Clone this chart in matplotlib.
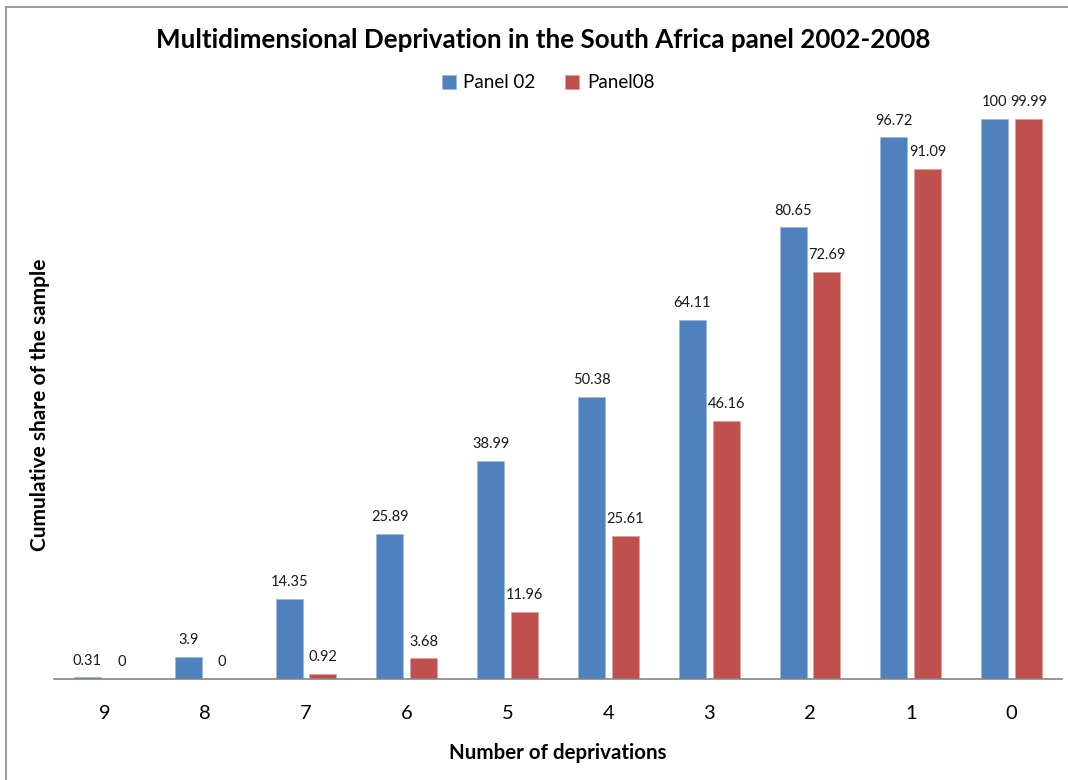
import matplotlib
matplotlib.use("Agg")
import matplotlib.pyplot as plt
import numpy as np
from matplotlib.lines import Line2D

categories = ["9", "8", "7", "6", "5", "4", "3", "2", "1", "0"]
panel02 = [0.31, 3.9, 14.35, 25.89, 38.99, 50.38, 64.11, 80.65, 96.72, 100]
panel08 = [0, 0, 0.92, 3.68, 11.96, 25.61, 46.16, 72.69, 91.09, 99.99]
labels02 = ["0.31", "3.9", "14.35", "25.89", "38.99", "50.38", "64.11", "80.65", "96.72", "100"]
labels08 = ["0", "0", "0.92", "3.68", "11.96", "25.61", "46.16", "72.69", "91.09", "99.99"]

BLUE = "#4F81BD"
RED = "#C0504D"
FONT = ["Lato", "DejaVu Sans"]
plt.rcParams["font.family"] = FONT

W, H = 1068, 780
fig = plt.figure(figsize=(W / 100, H / 100), dpi=100)

# plot area in pixel terms
x0, x1 = 54, 1062
y_base, y_top = 679, 63
ymax = 110
ax = fig.add_axes([x0 / W, (H - y_base) / H, (x1 - x0) / W, (y_base - y_top) / H])

x = np.arange(len(categories))
bw = 0.268
off = 0.168
b1 = ax.bar(x - off, panel02, bw, color=BLUE, edgecolor="#9DB9DD", linewidth=0.6, label="Panel 02")
b2 = ax.bar(x + off, panel08, bw, color=RED, edgecolor="#E0A09E", linewidth=0.6, label="Panel08")

for xi, v, t in zip(x - off, panel02, labels02):
    ax.annotate(t, (xi, v), xytext=(0, 7), textcoords="offset points",
                ha="center", va="bottom", fontsize=10.5, color="#1a1a1a")
for xi, v, t in zip(x + off, panel08, labels08):
    ax.annotate(t, (xi, v), xytext=(0, 7), textcoords="offset points",
                ha="center", va="bottom", fontsize=10.5, color="#1a1a1a")

ax.set_xlim(-0.5, len(categories) - 0.5)
ax.set_ylim(0, ymax)
ax.set_xticks(x)
ax.set_xticklabels(categories, fontsize=14.5)
ax.tick_params(axis="x", length=0, pad=19)
ax.set_yticks([])
for s in ["top", "right", "left"]:
    ax.spines[s].set_visible(False)
ax.spines["bottom"].set_color("#868686")
ax.spines["bottom"].set_linewidth(1.2)

fig.text(543 / W, 1 - 40 / H, "Multidimensional Deprivation in the South Africa panel 2002-2008",
         ha="center", va="center", fontsize=18.7, fontweight="bold")
fig.text(558 / W, 1 - 753 / H, "Number of deprivations",
         ha="center", va="center", fontsize=14.8, fontweight="bold")
fig.text(40 / W, 1 - 405 / H, "Cumulative share of the sample",
         ha="center", va="center", rotation=90, fontsize=15, fontweight="bold")

leg = fig.legend(handles=[b1, b2], loc="center", bbox_to_anchor=(548 / W, 1 - 83 / H),
                 ncol=2, frameon=False, fontsize=13.5, handlelength=0.75, handleheight=0.75,
                 handletextpad=0.4, columnspacing=1.6)

# chart frame (top and left edges)
fig.add_artist(Line2D([6 / W, 1], [1 - 7 / H, 1 - 7 / H], color="#8c8c8c", linewidth=1.2))
fig.add_artist(Line2D([6 / W, 6 / W], [0, 1 - 7 / H], color="#8c8c8c", linewidth=1.2))

fig.savefig("out.png", dpi=100)
